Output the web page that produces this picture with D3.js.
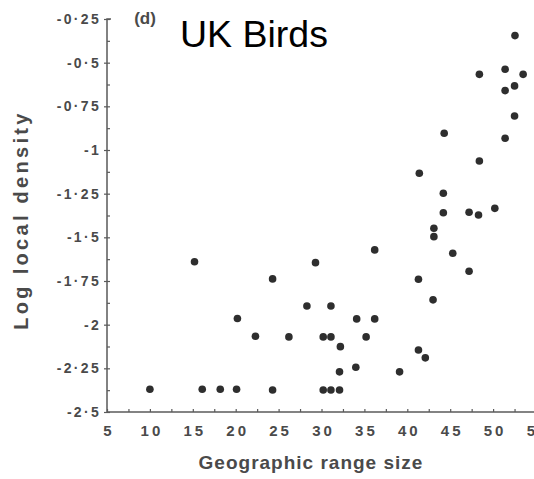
<!DOCTYPE html>
<html>
<head>
<meta charset="utf-8">
<script src="https://cdn.jsdelivr.net/npm/d3@7"></script>
<style>
  html, body { margin: 0; padding: 0; background: #fff; }
  svg { display: block; }
  text { font-family: "Liberation Sans", Arial, Helvetica, sans-serif; }
</style>
</head>
<body>
<svg id="chart" width="534" height="479"></svg>
<script>
// ---- data ----
const rangeSize = [10, 15.2, 16.1, 18.2, 20.1, 20.2, 22.3, 24.3, 24.3, 26.2,
  28.3, 29.3, 30.2, 31.1, 31.1, 32.2, 32.1, 30.2, 31.1, 32.1,
  34.0, 34.1, 35.2, 36.2, 36.2, 39.1, 41.3, 41.3, 42.1, 43.0,
  45.3, 47.2, 43.1, 43.1, 44.2, 44.2, 41.4, 47.2, 48.3, 50.2,
  48.4, 51.4, 44.3, 52.5, 51.4, 52.5, 48.4, 51.4, 53.5, 52.55];
const logDensity = [-2.37, -1.64, -2.37, -2.37, -2.37, -1.965, -2.066, -1.738, -2.374, -2.07,
  -1.893, -1.645, -2.07, -2.07, -1.893, -2.126, -2.27, -2.374, -2.374, -2.374,
  -2.244, -1.967, -2.07, -1.967, -1.572, -2.27, -1.74, -2.145, -2.19, -1.858,
  -1.591, -1.694, -1.448, -1.496, -1.359, -1.248, -1.133, -1.356, -1.372, -1.334,
  -1.063, -0.933, -0.904, -0.805, -0.66, -0.633, -0.567, -0.538, -0.567, -0.345];
const xTickValues = [5, 10, 15, 20, 25, 30, 35, 40, 45, 50, 55];
const xTickLabels = ["5", "10", "15", "20", "25", "30", "35", "40", "45", "50", "55"];
const yTickValues = [-0.25, -0.5, -0.75, -1, -1.25, -1.5, -1.75, -2, -2.25, -2.5];
const yTickLabels = ["-0·25", "-0·5", "-0·75", "-1", "-1·25", "-1·5", "-1·75", "-2", "-2·25", "-2·5"];
const titleText = "UK Birds";
const panelText = "(d)";
const xTitle = "Geographic range size";
const yTitle = "Log local density";

// ---- layout ----
const svg = d3.select("#chart");
const x = d3.scaleLinear().domain([5, 55]).range([107, 536]);
const y = d3.scaleLinear().domain([-2.5, -0.25]).range([412, 19]);
const axisColor = "#5a5a5a";
const textColor = "#4a4a4a";

// minor tick values
const xMinor = d3.range(5, 55.01, 2.5);
const yMinor = d3.range(-2.5, -0.249, 0.125);

// X axis
const gx = svg.append("g").attr("transform", `translate(0,${y(-2.5)})`);
gx.call(d3.axisBottom(x).tickValues(xMinor).tickSize(-3).tickFormat(""));
gx.select(".domain").attr("stroke", axisColor).attr("stroke-width", 1.5).attr("d", `M${x(5)},0H534`);
gx.selectAll(".tick line").attr("stroke", axisColor).attr("stroke-width", 1.2);

const gxl = svg.append("g").attr("transform", `translate(0,${y(-2.5)})`);
gxl.call(d3.axisBottom(x).tickValues(xTickValues).tickSize(0).tickPadding(13)
  .tickFormat((d, i) => xTickLabels[i]));
gxl.select(".domain").remove();
gxl.selectAll(".tick text")
  .attr("fill", textColor).attr("font-size", 15).attr("font-weight", "bold")
  .style("letter-spacing", "3px").attr("dx", "1.5px")
  .attr("font-family", "'Liberation Sans', Arial, sans-serif");

// Y axis
const gy = svg.append("g").attr("transform", `translate(${x(5)},0)`);
gy.call(d3.axisRight(y).tickValues(yMinor).tickSize(3).tickFormat(""));
gy.select(".domain").attr("stroke", axisColor).attr("stroke-width", 1.5)
  .attr("d", `M0,${y(-2.5)}V${y(-0.25)}h4`);
gy.selectAll(".tick line").attr("stroke", axisColor).attr("stroke-width", 1.2);

const gyl = svg.append("g").attr("transform", `translate(${x(5)},0)`);
gyl.call(d3.axisLeft(y).tickValues(yTickValues).tickSize(3).tickPadding(3)
  .tickFormat((d, i) => yTickLabels[i]));
gyl.select(".domain").remove();
gyl.selectAll(".tick line").attr("stroke", axisColor).attr("stroke-width", 1.2);
gyl.selectAll(".tick text")
  .attr("fill", textColor).attr("font-size", 14).attr("font-weight", "bold")
  .style("letter-spacing", "2.3px")
  .attr("font-family", "'Liberation Sans', Arial, sans-serif");

// points
const pts = rangeSize.map((v, i) => ({ x: v, y: logDensity[i] }));
svg.append("g").selectAll("circle").data(pts).join("circle")
  .attr("cx", d => x(d.x)).attr("cy", d => y(d.y))
  .attr("r", 3.8).attr("fill", "#2e2e2e");

// titles
svg.append("text").attr("x", 180).attr("y", 47)
  .attr("font-size", 37.5).attr("fill", "#000").text(titleText);
svg.append("text").attr("x", 145).attr("y", 24).attr("text-anchor", "middle")
  .attr("font-size", 17).attr("font-weight", "bold").attr("fill", textColor).text(panelText);
svg.append("text").attr("x", 311).attr("y", 469).attr("text-anchor", "middle")
  .attr("font-size", 19).attr("font-weight", "bold").attr("fill", textColor)
  .style("letter-spacing", "1px").text(xTitle);
svg.append("text").attr("transform", "translate(28,220) rotate(-90)").attr("text-anchor", "middle")
  .attr("font-size", 20).attr("font-weight", "bold").attr("fill", textColor)
  .style("letter-spacing", "3.3px").text(yTitle);
</script>
</body>
</html>
